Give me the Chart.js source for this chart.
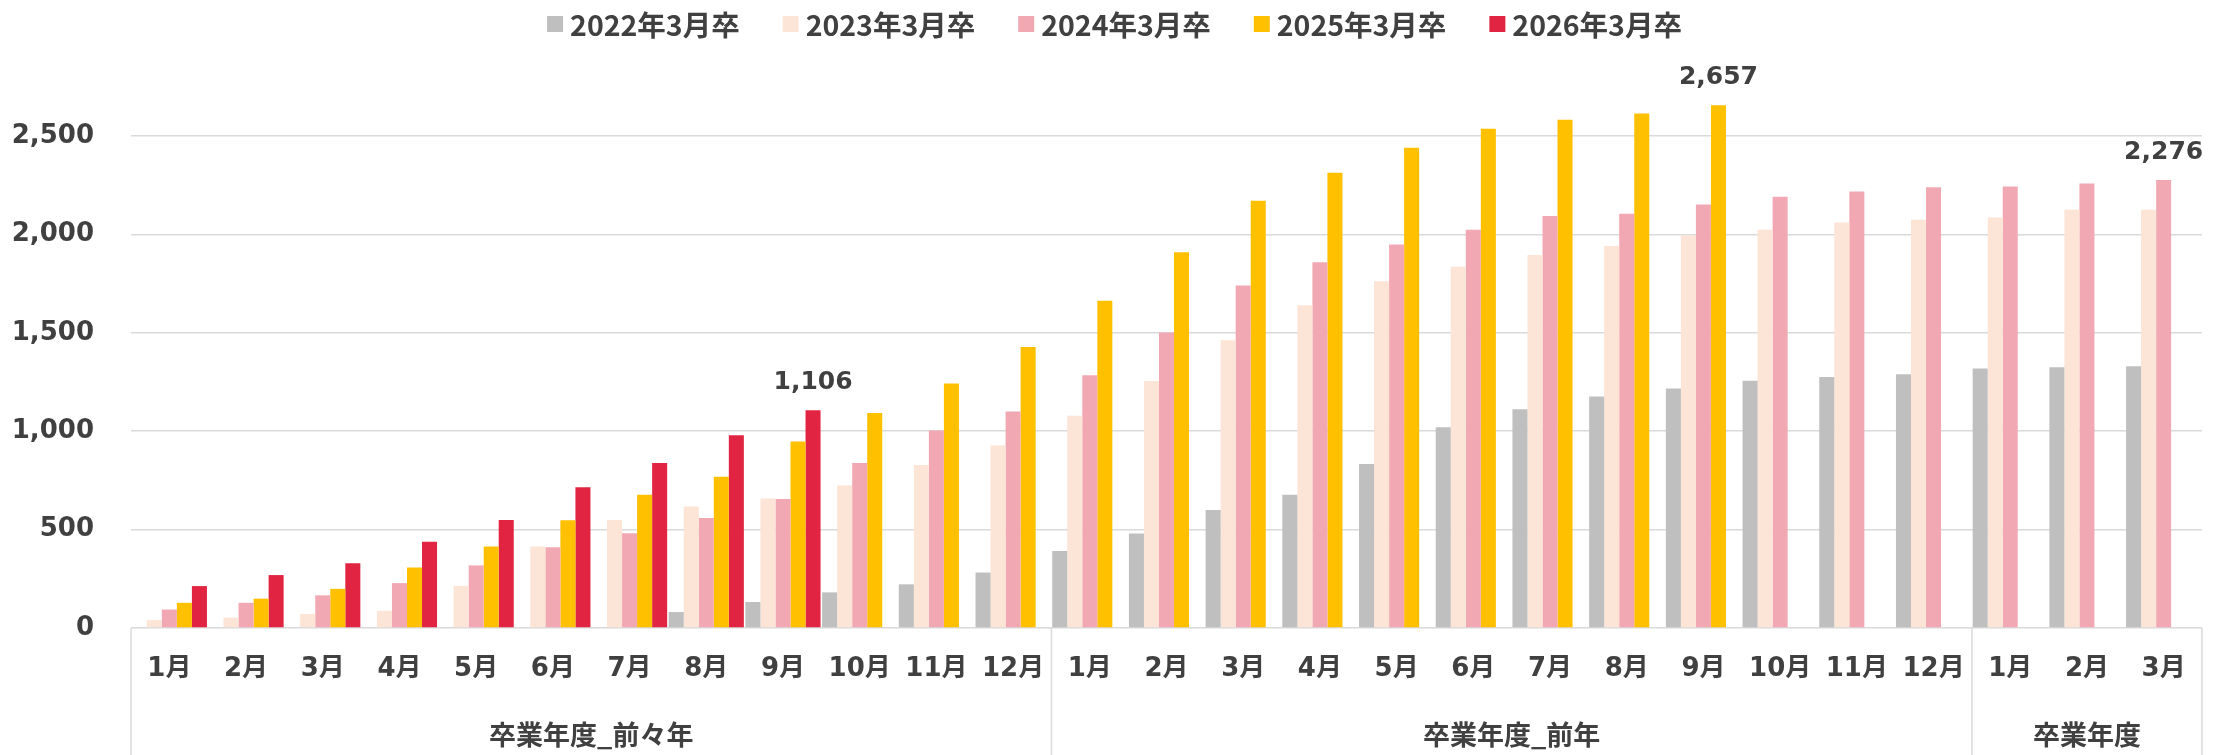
<!DOCTYPE html>
<html>
<head>
<meta charset="utf-8">
<script src="https://cdn.jsdelivr.net/npm/chart.js@4.4.1/dist/chart.umd.min.js"></script>
<style>
  html, body { margin: 0; padding: 0; background: #ffffff; }
  #wrap { width: 2229px; height: 755px; position: relative; }
</style>
</head>
<body>
<div id="wrap"><canvas id="c" width="2229" height="755"></canvas></div>
<script>
// ---- data ----
const categories = ['1月','2月','3月','4月','5月','6月','7月','8月','9月','10月','11月','12月',
                    '1月','2月','3月','4月','5月','6月','7月','8月','9月','10月','11月','12月',
                    '1月','2月','3月'];
const groupLabels = ['卒業年度_前々年', '卒業年度_前年', '卒業年度'];
const groupSizes = [12, 12, 3];
const seriesNames = ['2022年3月卒', '2023年3月卒', '2024年3月卒', '2025年3月卒', '2026年3月卒'];

const s2022 = [null, null, null, null, null, null, null, 81, 132, 181, 222, 282,
               391, 480, 600, 677, 833, 1020, 1112, 1176, 1217, 1257, 1275, 1289,
               1319, 1325, 1330];
const s2023 = [40, 53, 71, 87, 214, 414, 549, 617, 658, 724, 828, 927,
               1078, 1255, 1462, 1640, 1762, 1836, 1896, 1941, 1994, 2024, 2060, 2075,
               2086, 2126, 2126];
const s2024 = [94, 128, 166, 228, 318, 410, 482, 559, 655, 839, 1004, 1100,
               1285, 1501, 1740, 1858, 1949, 2024, 2094, 2105, 2152, 2191, 2218, 2240,
               2244, 2259, 2276];
const s2025 = [128, 149, 199, 308, 414, 547, 677, 769, 948, 1093, 1243, 1428,
               1663, 1909, 2171, 2314, 2440, 2537, 2583, 2615, 2657, null, null, null,
               null, null, null];
const s2026 = [213, 269, 329, 438, 549, 715, 839, 980, 1106, null, null, null,
               null, null, null, null, null, null, null, null, null, null, null, null,
               null, null, null];

// which bars carry a value label: series index / category index
const labelSeries = [4, 3, 2];
const labelIndex = [8, 20, 26];

const yTicks = [0, 500, 1000, 1500, 2000, 2500];

// ---- styles ----
const colors = ['#BFBFBF', '#FCE4D6', '#F2A8B3', '#FFC000', '#E12441'];
const textColor = '#404040';
const gridColor = '#DADADA';
const latinFont = "'DejaVu Sans', 'Noto Sans CJK JP', sans-serif";
const cjkFont = "'Noto Sans CJK JP', 'DejaVu Sans', sans-serif";

const seriesData = [s2022, s2023, s2024, s2025, s2026];

const customDraw = {
  id: 'customDraw',
  afterDraw(chart) {
    const ctx = chart.ctx;
    const xs = chart.scales.x;
    const area = chart.chartArea;
    const H = chart.height;
    const n = chart.data.labels.length;
    const step = (xs.right - xs.left) / n;

    // group separators and labels
    ctx.save();
    ctx.strokeStyle = gridColor;
    ctx.lineWidth = 1.5;
    let idx = 0;
    const bounds = [0];
    groupSizes.forEach(s => { idx += s; bounds.push(idx); });
    bounds.forEach(b => {
      const x = xs.left + b * step;
      ctx.beginPath();
      ctx.moveTo(x, area.bottom);
      ctx.lineTo(x, H);
      ctx.stroke();
    });
    ctx.fillStyle = textColor;
    ctx.font = "bold 27px " + cjkFont;
    ctx.textAlign = 'center';
    ctx.textBaseline = 'middle';
    groupLabels.forEach((g, i) => {
      const x0 = xs.left + bounds[i] * step;
      const x1 = xs.left + bounds[i + 1] * step;
      ctx.fillText(g, (x0 + x1) / 2, 735);
    });

    // value labels
    ctx.font = "bold 25px " + latinFont;
    ctx.textBaseline = 'alphabetic';
    labelSeries.forEach((ds, k) => {
      const i = labelIndex[k];
      const bar = chart.getDatasetMeta(ds).data[i];
      const v = chart.data.datasets[ds].data[i];
      ctx.fillText(v.toLocaleString('en-US'), bar.x, bar.y - 21);
    });

    // legend
    ctx.font = "bold 28.5px " + cjkFont;
    ctx.textAlign = 'left';
    ctx.textBaseline = 'middle';
    const box = 16, gap = 7, spacing = 43;
    const items = chart.data.datasets.map(d => ({ text: d.label, color: d.backgroundColor, w: ctx.measureText(d.label).width }));
    let total = 0;
    items.forEach((it, i) => { total += box + gap + it.w + (i < items.length - 1 ? spacing : 0); });
    let x = chart.width / 2 - total / 2;
    const ly = 24;
    items.forEach(it => {
      ctx.fillStyle = it.color;
      ctx.fillRect(x, ly - box / 2, box, box);
      x += box + gap;
      ctx.fillStyle = textColor;
      ctx.fillText(it.text, x, ly + 1);
      x += it.w + spacing;
    });
    ctx.restore();
  }
};

new Chart(document.getElementById('c'), {
  type: 'bar',
  data: {
    labels: categories,
    datasets: seriesNames.map((name, i) => ({
      label: name,
      data: seriesData[i],
      backgroundColor: colors[i],
      borderWidth: 0,
      categoryPercentage: 0.98,
      barPercentage: 1.0
    }))
  },
  options: {
    responsive: false,
    devicePixelRatio: 1,
    animation: false,
    layout: { padding: { top: 77, right: 27, bottom: 0, left: 0 } },
    plugins: {
      legend: { display: false },
      tooltip: { enabled: false }
    },
    scales: {
      x: {
        grid: { display: false, drawTicks: false },
        border: { display: false },
        ticks: {
          color: textColor,
          font: { family: latinFont, size: 26, weight: 'bold' },
          padding: 26,
          autoSkip: false,
          maxRotation: 0
        },
        afterFit(scale) { scale.height = 127; }
      },
      y: {
        min: 0,
        max: 2800,
        grid: { color: gridColor, lineWidth: 1.5, drawTicks: false },
        border: { display: false },
        afterBuildTicks(scale) { scale.ticks = yTicks.map(v => ({ value: v })); },
        ticks: {
          color: textColor,
          font: { family: latinFont, size: 26, weight: 'bold' },
          padding: 37,
          callback: v => v.toLocaleString('en-US')
        },
        afterFit(scale) { scale.width = 131; }
      }
    }
  },
  plugins: [customDraw]
});
</script>
</body>
</html>
